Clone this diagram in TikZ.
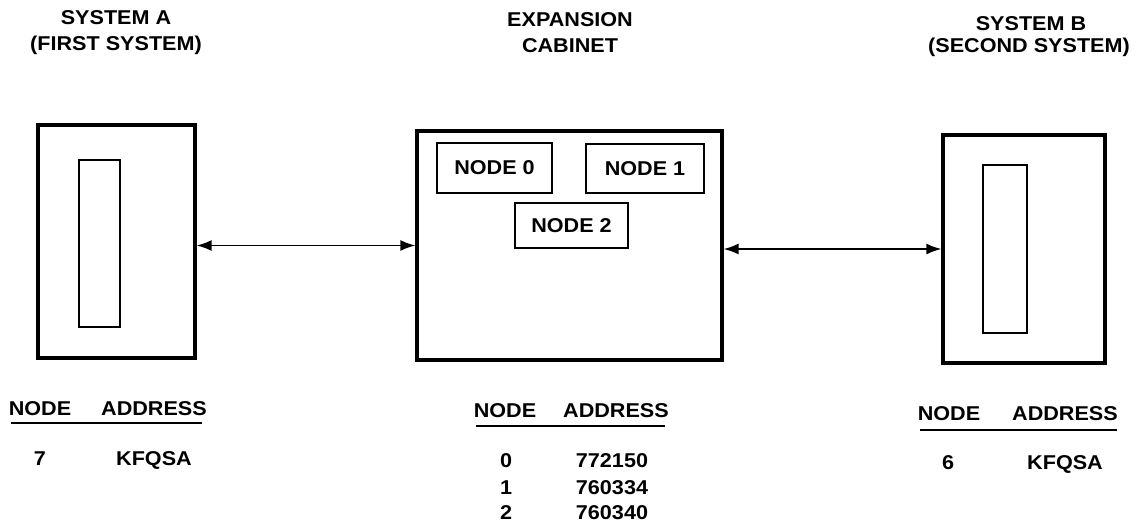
\documentclass[tikz,border=0pt]{standalone}
\usepackage{fontspec}
\setmainfont{Liberation Sans}
\newfontfamily\diagfont[FakeStretch=1.08]{Liberation Sans}
\usetikzlibrary{arrows.meta}

\begin{document}
\begin{tikzpicture}
                [
                x=1pt,y=-1pt,
                unit/.style={rectangle,draw=black,line width=3.2pt,inner sep=0pt},
                slot/.style={rectangle,draw=black,line width=2.6pt,inner sep=0pt},
                nodebox/.style={rectangle,draw=black,line width=2.6pt,inner sep=0pt,font=\diagfont\fontsize{20}{24}\selectfont\bfseries},
                lbl/.style={inner sep=0pt,text height=14pt,text depth=0pt,font=\diagfont\fontsize{20}{24}\selectfont\bfseries},
                arrow/.style={{Latex[length=15pt,width=11pt]}-{Latex[length=15pt,width=11pt]},line width=1.8pt},
                rule/.style={line width=2.2pt},
                ]
                \useasboundingbox (0,0) rectangle (1140,522);
                % titles
                \node[lbl] (tA1) at (116,17) {SYSTEM A};
                \node[lbl] (tA2) at (116,43) {(FIRST SYSTEM)};
                \node[lbl] (tC1) at (570,20) {EXPANSION};
                \node[lbl] (tC2) at (570,45) {CABINET};
                \node[lbl] (tB1) at (1031,23) {SYSTEM B};
                \node[lbl] (tB2) at (1029,45) {(SECOND SYSTEM)};
                % units
                \node[unit, minimum width=157pt, minimum height=233pt] (sysA) at (116.5,241.5) {};
                \node[slot, minimum width=41pt, minimum height=167pt] (slotA) at (99.5,243.5) {};
                \node[unit, minimum width=305pt, minimum height=229pt] (cab) at (569.5,245.5) {};
                \node[nodebox, minimum width=115pt, minimum height=50pt] (n0) at (494.5,168) {NODE 0};
                \node[nodebox, minimum width=118pt, minimum height=49pt] (n1) at (645,168.5) {NODE 1};
                \node[nodebox, minimum width=113pt, minimum height=45pt] (n2) at (571.5,225.5) {NODE 2};
                \node[unit, minimum width=162pt, minimum height=228pt] (sysB) at (1024,249) {};
                \node[slot, minimum width=44pt, minimum height=168pt] (slotB) at (1005,249) {};
                % links
                \draw[arrow] (cab.west -| sysA.east) -- (cab.west);
                \draw[arrow] (cab.east |- sysB.west) -- (sysB.west);
                % tables
                \node[lbl] (hA1) at (40,408) {NODE};
                \node[lbl] (hA2) at (154,408) {ADDRESS};
                \draw[rule] (11,423) -- (202,423);
                \node[lbl] (rA1) at (40,458) {7};
                \node[lbl] (rA2) at (154,458) {KFQSA};
                \node[lbl] (hC1) at (505,410) {NODE};
                \node[lbl] (hC2) at (616,410) {ADDRESS};
                \draw[rule] (476,426) -- (665,426);
                \node[lbl] (rC1) at (506,460) {0};
                \node[lbl] (rC2) at (612,460) {772150};
                \node[lbl] (rC3) at (506,487) {1};
                \node[lbl] (rC4) at (612,487) {760334};
                \node[lbl] (rC5) at (506,512) {2};
                \node[lbl] (rC6) at (612,512) {760340};
                \node[lbl] (hB1) at (949,413) {NODE};
                \node[lbl] (hB2) at (1065,413) {ADDRESS};
                \draw[rule] (920,430) -- (1117,430);
                \node[lbl] (rB1) at (948,462) {6};
                \node[lbl] (rB2) at (1065,462) {KFQSA};
            \end{tikzpicture}
\end{document}
